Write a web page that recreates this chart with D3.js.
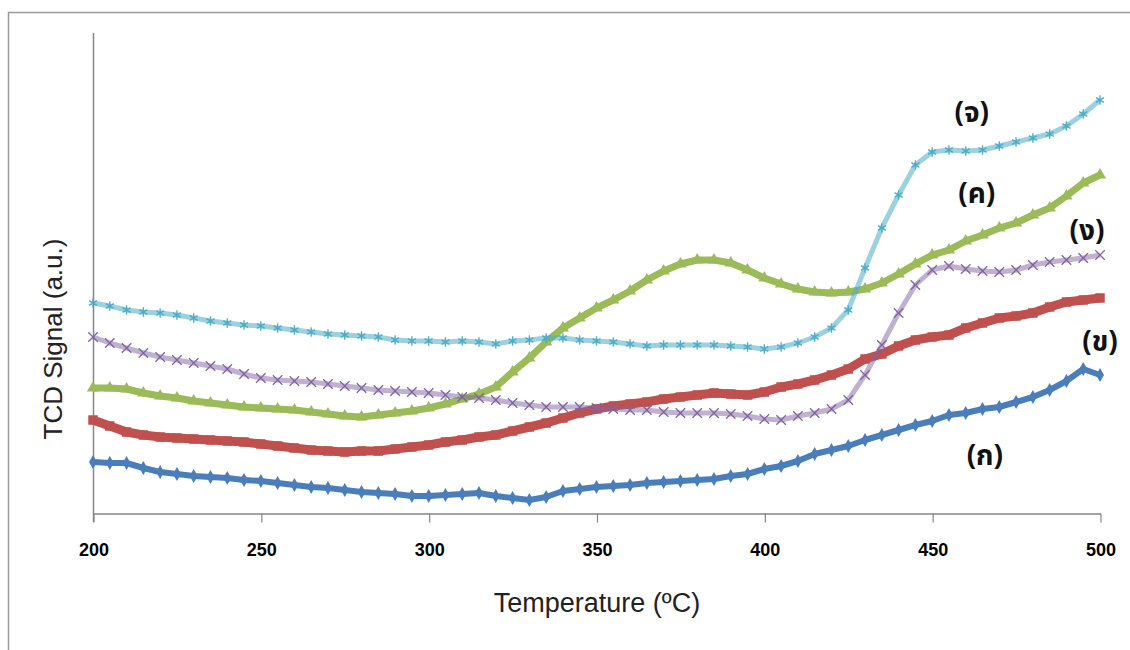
<!DOCTYPE html>
<meta charset="utf-8">
<style>
body { margin: 0; background: #fff; }
.axis path, .axis line { stroke: #868686; }
.lbl { font-family: Tahoma, "Noto Sans Thai", "Loma", sans-serif; font-weight: bold; font-size: 28px; fill: #111; }
</style>
<svg width="1130" height="650"></svg>
<script src="https://cdn.jsdelivr.net/npm/d3@7"></script>
<script>
var width = 1130, height = 650;

// temperatures, one reading every 5 degrees
var temps = d3.range(200, 501, 5);

var seriesA = [5.1,5.0,5.0,4.5,4.1,3.9,3.7,3.6,3.5,3.3,
  3.2,3.0,2.8,2.6,2.5,2.3,2.1,2.0,1.9,1.7,
  1.7,1.8,1.9,2.0,1.7,1.5,1.3,1.6,2.2,2.4,
  2.6,2.7,2.8,3.0,3.1,3.2,3.3,3.4,3.7,3.9,
  4.4,4.7,5.2,5.9,6.3,6.7,7.3,7.8,8.3,8.8,
  9.2,9.8,10.0,10.4,10.6,11.1,11.6,12.3,13.2,14.4,13.8];
var seriesB = [9.3,8.7,8.1,7.8,7.6,7.5,7.4,7.3,7.2,7.1,
  6.9,6.7,6.5,6.3,6.2,6.1,6.2,6.2,6.4,6.6,
  6.8,7.1,7.3,7.6,7.8,8.2,8.6,9.0,9.5,10.0,
  10.4,10.7,10.9,11.1,11.4,11.6,11.8,12.0,11.9,11.8,
  12.1,12.6,12.9,13.3,13.8,14.4,15.4,15.9,16.7,17.3,
  17.6,17.8,18.5,19.0,19.5,19.7,20.0,20.6,21.1,21.3,21.5];
var seriesC = [12.5,12.5,12.4,12.0,11.7,11.5,11.2,11.0,10.8,10.6,
  10.5,10.4,10.3,10.1,9.9,9.7,9.6,9.8,10.0,10.2,
  10.5,10.9,11.4,11.9,12.6,14.1,15.5,17.1,18.5,19.5,
  20.5,21.3,22.2,23.3,24.2,24.9,25.3,25.3,25.0,24.3,
  23.5,22.9,22.4,22.1,22.0,22.1,22.4,23.0,23.9,24.9,
  25.8,26.3,27.2,27.8,28.5,29.0,29.8,30.5,31.7,33.0,33.8];
var seriesD = [17.6,17.0,16.5,16.0,15.6,15.3,15.0,14.7,14.4,13.9,
  13.5,13.3,13.2,13.1,12.9,12.7,12.5,12.3,12.2,12.1,
  12.0,11.8,11.6,11.5,11.3,11.0,10.8,10.6,10.6,10.6,
  10.5,10.4,10.3,10.3,10.1,10.0,10.0,10.0,9.9,9.7,
  9.4,9.3,9.7,10.0,10.4,11.3,13.8,16.8,20.0,22.8,
  24.3,24.7,24.4,24.2,24.1,24.3,24.8,25.1,25.3,25.5,25.8];
var seriesE = [21.0,20.7,20.3,20.1,20.0,19.8,19.5,19.2,19.0,18.8,
  18.7,18.5,18.3,18.1,17.9,17.8,17.7,17.6,17.3,17.2,
  17.2,17.1,17.2,17.1,16.9,17.2,17.3,17.5,17.5,17.3,
  17.2,17.1,16.9,16.7,16.8,16.8,16.8,16.8,16.7,16.6,
  16.4,16.6,17.0,17.6,18.5,20.3,24.5,28.5,31.8,34.8,
  36.1,36.3,36.2,36.3,36.7,37.1,37.5,37.9,38.7,39.9,41.3];

var labels = ["(ก)", "(ข)", "(ค)", "(ง)", "(จ)"];
var colors = ["#4a7ebb", "#c0504d", "#9bbb59", "#8064a2", "#4bacc6"];
var xTicks = [200, 250, 300, 350, 400, 450, 500];

var svg = d3.select("svg");

// outer frame
svg.append("rect")
    .attr("x", 8.5).attr("y", 12.5)
    .attr("width", 1200).attr("height", 700)
    .attr("fill", "none").attr("stroke", "#9a9a9a").attr("stroke-width", 1.5);

var x = d3.scaleLinear().domain([200, 500]).range([93, 1100]);
var y = d3.scaleLinear().domain([0, 48]).range([513, 33]);

// y axis line only, no ticks
svg.append("line")
    .attr("x1", 93.5).attr("x2", 93.5)
    .attr("y1", 33).attr("y2", 522)
    .attr("stroke", "#868686").attr("stroke-width", 1.5);

var xAxis = svg.append("g")
    .attr("class", "axis")
    .attr("transform", "translate(0.5,513.5)")
    .call(d3.axisBottom(x).tickValues(xTicks).tickSize(9).tickSizeOuter(0).tickPadding(21));
xAxis.select(".domain").attr("stroke-width", 1.5);
xAxis.selectAll(".tick line").attr("stroke-width", 1.2);
xAxis.selectAll(".tick text")
    .style("font-family", "'Liberation Sans', Arial, sans-serif")
    .style("font-weight", "bold")
    .style("font-size", "18px")
    .style("fill", "#000");

var all = [seriesA, seriesB, seriesC, seriesD, seriesE];
var bandW = [6, 9, 7, 5, 5];
var bandOp = [1, 1, 1, 0.5, 0.55];

var line = d3.line()
    .x(function(d, i) { return x(temps[i]); })
    .y(function(d) { return y(d); });

all.forEach(function(vals, k) {
  var g = svg.append("g");
  g.append("path")
      .attr("d", line(vals))
      .attr("fill", "none")
      .attr("stroke", colors[k])
      .attr("stroke-width", bandW[k])
      .attr("stroke-opacity", bandOp[k])
      .attr("stroke-linejoin", "round");

  var sym, size, filled = true;
  if (k === 0) { sym = d3.symbolDiamond; size = 55; }
  if (k === 1) { sym = d3.symbolSquare; size = 90; }
  if (k === 2) { sym = d3.symbolTriangle; size = 65; }
  if (k === 3) { sym = d3.symbolX; size = 60; filled = false; }
  if (k === 4) { sym = d3.symbolAsterisk; size = 60; filled = false; }

  g.selectAll("path.m")
    .data(vals)
    .enter().append("path")
      .attr("class", "m")
      .attr("transform", function(d, i) { return "translate(" + x(temps[i]) + "," + y(d) + ")"; })
      .attr("d", d3.symbol().type(sym).size(size))
      .attr("fill", filled ? colors[k] : "none")
      .attr("stroke", colors[k])
      .attr("stroke-width", filled ? 0 : 1.3);
});

// series labels, placed in data units
var labelPos = [[465.7, 5.8], [500, 17.2], [463.3, 32.0], [496.1, 28.3], [461.8, 40.1]];
svg.selectAll("text.lbl")
  .data(labels)
  .enter().append("text")
    .attr("class", "lbl")
    .attr("x", function(d, i) { return x(labelPos[i][0]); })
    .attr("y", function(d, i) { return y(labelPos[i][1]); })
    .attr("dy", "0.35em")
    .attr("text-anchor", "middle")
    .text(function(d) { return d; });

svg.append("text")
    .attr("x", 597).attr("y", 612)
    .attr("text-anchor", "middle")
    .style("font-family", "'Liberation Sans', Arial, sans-serif")
    .style("font-size", "27px")
    .style("fill", "#222")
    .text("Temperature (ºC)");

svg.append("text")
    .attr("transform", "translate(62,339) rotate(-90)")
    .attr("text-anchor", "middle")
    .style("font-family", "'Liberation Sans', Arial, sans-serif")
    .style("font-size", "26px")
    .style("fill", "#222")
    .text("TCD Signal (a.u.)");
</script>
